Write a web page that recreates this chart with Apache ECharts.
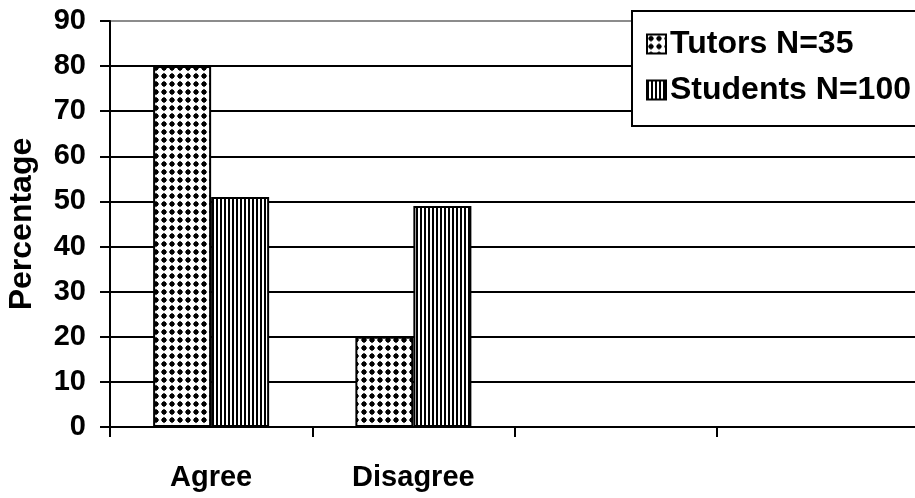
<!DOCTYPE html>
<html><head><meta charset="utf-8">
<script src="https://cdn.jsdelivr.net/npm/echarts@6/dist/echarts.min.js"></script>
<style>html,body{margin:0;padding:0;background:#fff}#c{width:915px;height:498px}</style>
</head><body><div id="c"></div>
<script>
const categories = ['Agree', 'Disagree', '', ''];
const tutors = [80, 20, null, null];
const students = [51, 49, null, null];
const yTicks = [0, 10, 20, 30, 40, 50, 60, 70, 80, 90];
const seriesNames = ['Tutors N=35', 'Students N=100'];

function dotPattern() {
  const c = document.createElement('canvas'); c.width = 8; c.height = 8;
  const g = c.getContext('2d'); g.fillStyle = '#fff'; g.fillRect(0, 0, 8, 8);
  g.fillStyle = '#000';
  g.beginPath(); g.moveTo(4, 0.8); g.lineTo(7.2, 4); g.lineTo(4, 7.2); g.lineTo(0.8, 4); g.closePath(); g.fill();
  g.fillRect(2, 2, 4, 4);
  return c;
}
function stripePattern() {
  const c = document.createElement('canvas'); c.width = 4; c.height = 4;
  const g = c.getContext('2d'); g.fillStyle = '#fff'; g.fillRect(0, 0, 4, 4);
  g.fillStyle = '#000'; g.fillRect(0, 0, 2, 4);
  return c;
}
const font = "'Liberation Sans', Arial, sans-serif";
const chart = echarts.init(document.getElementById('c'));
const lineColors = yTicks.map((v, i) => i === yTicks.length - 1 ? '#8c8c8c' : '#000');
chart.setOption({
  animation: false,
  backgroundColor: '#fff',
  grid: { left: 110, right: -4, top: 21, bottom: 71, containLabel: false, outerBoundsMode: 'none' },
  legend: {
    orient: 'vertical', left: 632, top: 11,
    data: seriesNames,
    icon: 'rect',
    itemWidth: 19, itemHeight: 19, itemGap: 14,
    padding: [17, 20, 20, 14],
    borderColor: '#000', borderWidth: 2, backgroundColor: '#fff',
    selectedMode: false,
    textStyle: { fontFamily: font, fontWeight: 'bold', fontSize: 32, color: '#000', lineHeight: 30, padding: [0, 0, 0, -1] }
  },
  xAxis: {
    type: 'category', data: categories,
    axisLine: { lineStyle: { color: '#000', width: 2 } },
    axisTick: { show: true, length: 10, lineStyle: { color: '#000', width: 2 } },
    axisLabel: { margin: 36, fontFamily: font, fontWeight: 'bold', fontSize: 29, color: '#000' }
  },
  yAxis: {
    type: 'value', min: 0, max: 90, interval: 10,
    name: 'Percentage', nameLocation: 'middle', nameRotate: 90, nameGap: 72,
    nameTextStyle: { fontFamily: font, fontWeight: 'bold', fontSize: 32, color: '#000' },
    axisLine: { show: true, lineStyle: { color: '#000', width: 2 } },
    axisTick: { show: true, length: 10, lineStyle: { color: '#000', width: 2 } },
    axisLabel: { margin: 24, fontFamily: font, fontWeight: 'bold', fontSize: 29, color: '#000' },
    splitLine: { show: true, lineStyle: { color: lineColors, width: 2 } }
  },
  series: [
    { name: seriesNames[0], type: 'bar', data: tutors, barWidth: 58, barGap: '0%',
      itemStyle: { color: { image: dotPattern(), repeat: 'repeat' }, borderColor: '#000', borderWidth: 2 } },
    { name: seriesNames[1], type: 'bar', data: students, barWidth: 58, barGap: '0%',
      itemStyle: { color: { image: stripePattern(), repeat: 'repeat' }, borderColor: '#000', borderWidth: 2 } }
  ]
});
</script></body></html>
